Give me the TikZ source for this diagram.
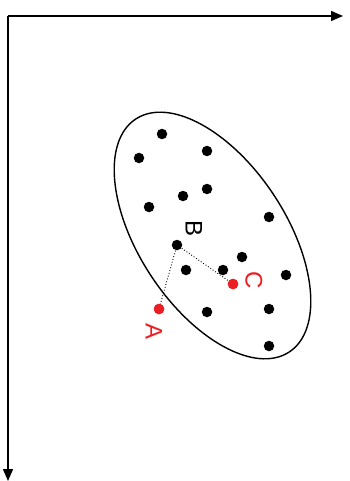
\documentclass[tikz,border=0pt]{standalone}
\usepackage{fontspec}
\setmainfont{Liberation Sans}
\usetikzlibrary{shapes.geometric,arrows.meta}
\definecolor{myred}{RGB}{235,30,35}
\begin{document}
\begin{tikzpicture}[x=1pt,y=-1pt,
  dot/.style={circle,fill=black,inner sep=0pt,minimum size=10.5pt},
  rdot/.style={circle,fill=myred,inner sep=0pt,minimum size=10.5pt},
  axis/.style={line width=1.4pt,-{Triangle[length=12pt,width=10pt]}},
  lbl/.style={font=\fontsize{24}{24}\selectfont,rotate=-90,inner sep=0pt},
  link/.style={dotted,line width=0.9pt}]
\useasboundingbox (0,0) rectangle (349,481);
\coordinate (O) at (8,16);
\coordinate (X) at (343,16);
\coordinate (Y) at (8,481);
\draw[axis] (O) -- (X);
\draw[axis] (O) -- (Y);
\node[draw,ellipse,line width=1.4pt,minimum width=279pt,minimum height=147pt,inner sep=0pt,rotate=-56.6] (ell) at (212.5,235.5) {};
\node[dot] (B) at (177,245) {};
\node[rdot] (A) at (159,309) {};
\node[rdot] (C) at (233,284) {};
\draw[link] (B.center) -- (A.center);
\draw[link] (B.center) -- (C.center);
\node[rdot] at (A) {};
\node[rdot] at (C) {};
\node[dot] (d1) at (162,134) {};
\node[dot] (d2) at (139,158) {};
\node[dot] (d3) at (207,151) {};
\node[dot] (d4) at (207,189) {};
\node[dot] (d5) at (183,196) {};
\node[dot] (d6) at (149,207) {};
\node[dot] (d7) at (269,217) {};
\node[dot] (d8) at (242,257) {};
\node[dot] (d9) at (186,270) {};
\node[dot] (d10) at (223,270) {};
\node[dot] (d11) at (286,275) {};
\node[dot] (d12) at (207,312) {};
\node[dot] (d13) at (269,309) {};
\node[dot] (d14) at (269,346) {};
\node[lbl] (lB) at (194,229) {B};
\node[lbl,text=myred] (lC) at (254,280) {C};
\node[lbl,text=myred] (lA) at (154,332) {A};
\end{tikzpicture}
\end{document}
